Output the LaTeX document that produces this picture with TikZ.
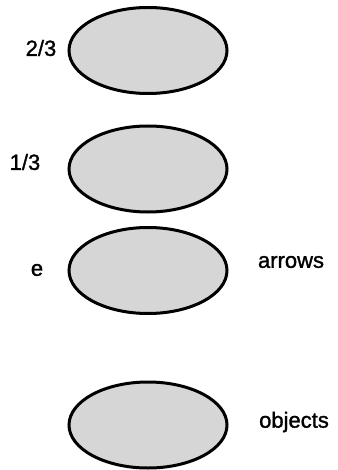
\documentclass[tikz,border=0pt]{standalone}
\usepackage{fontspec}
\setmainfont{Liberation Sans}
\newfontfamily\lblfont[FakeBold=1.3]{Liberation Sans}
\usetikzlibrary{shapes.geometric}
\tikzset{
  blob/.style={ellipse, draw=black, line width=3pt, fill=gray!32,
    minimum width=158pt, minimum height=86pt, inner sep=0pt},
  lbl/.style={font=\lblfont\fontsize{22}{25}\selectfont, inner sep=0pt, anchor=center}
}
\begin{document}
\begin{tikzpicture}[x=1pt,y=-1pt]
\useasboundingbox (0,0) rectangle (337,470);
\node[blob] (o1) at (148,50.5) {};
\node[blob] (o2) at (148,169) {};
\node[blob] (o3) at (148,270.5) {};
\node[blob] (o4) at (148,425) {};
\node[lbl] (l1) at (41,48) {2/3};
\node[lbl] (l2) at (25,162) {1/3};
\node[lbl] (l3) at (37,270) {e};
\node[lbl] (l4) at (291,262) {arrows};
\node[lbl] (l5) at (294,422) {objects};
\end{tikzpicture}
\end{document}
